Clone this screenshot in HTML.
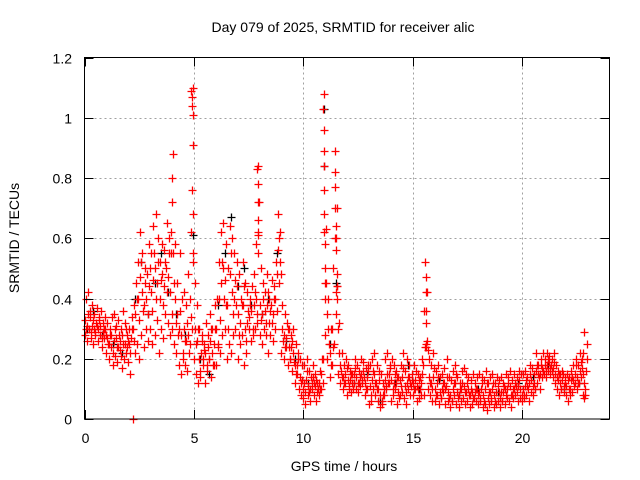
<!DOCTYPE html>
<html><head><meta charset="utf-8"><style>
html,body{margin:0;padding:0;background:#fff;}
svg{display:block;font-family:"Liberation Sans",sans-serif;}
</style></head><body>
<svg id="chart" width="640" height="480" viewBox="0 0 640 480">
<rect x="0" y="0" width="640" height="480" fill="#fff"/>
<text x="343" y="32" text-anchor="middle" font-size="14" fill="#000">Day 079 of 2025, SRMTID for receiver alic</text>
<text x="0" y="0" transform="translate(19,238) rotate(-90)" text-anchor="middle" font-size="14" fill="#000">SRMTID / TECUs</text>
<text x="344" y="471" text-anchor="middle" font-size="14" fill="#000">GPS time / hours</text>
<g id="grid"></g>
<g id="black-series"></g>
<g id="red-series"></g>
<rect x="84.5" y="57.5" width="525" height="361.5" fill="none" stroke="#000" stroke-width="1"/>
<g id="ticks"></g>
</svg>
<script>
const xTicks = [0, 5, 10, 15, 20];
const yTicks = [0, 0.2, 0.4, 0.6, 0.8, 1, 1.2];
const yTickLabels = ["0", "0.2", "0.4", "0.6", "0.8", "1", "1.2"];
const binStart = 0, binStep = 0.1;
const srmtidA = [.28,.26,.30,.27,.25,.29,.26,.28,.24,.27,
.22,.20,.24,.18,.21,.19,.23,.17,.20,.22,
.19,.15,.00,.22,.25,.20,.28,.24,.30,.26,
.30,.25,.28,.33,.22,.30,.27,.35,.32,.28,
.30,.25,.22,.18,.15,.20,.18,.16,.25,.30,
.20,.15,.12,.14,.18,.12,.16,.20,.14,.18,
.18,.25,.22,.28,.30,.20,.25,.22,.28,.30,
.20,.25,.28,.18,.22,.30,.26,.28,.30,.32,
.28,.25,.30,.28,.22,.28,.26,.30,.48,.45,
.22,.20,.24,.18,.20,.16,.12,.15,.10,.08,
.07,.05,.08,.06,.10,.08,.06,.08,.10,.20,
.28,.20,.14,.18,.25,.35,.15,.12,.10,.12,
.08,.10,.09,.12,.10,.09,.11,.12,.08,.10,
.05,.06,.10,.08,.06,.04,.05,.08,.10,.12,
.06,.08,.10,.05,.08,.09,.07,.05,.10,.08,
.08,.10,.06,.07,.12,.08,.24,.10,.08,.06,
.06,.08,.05,.07,.09,.05,.06,.04,.06,.08,
.05,.04,.06,.07,.05,.06,.04,.05,.07,.06,
.05,.06,.04,.05,.03,.05,.06,.04,.05,.06,
.04,.06,.05,.07,.06,.04,.07,.08,.06,.07,
.06,.07,.08,.06,.09,.08,.10,.12,.10,.14,
.15,.14,.16,.15,.14,.12,.10,.08,.10,.09,
.08,.06,.10,.09,.12,.10,.12,.14,.08,.08];
const srmtidB = [.40,.42,.36,.38,.35,.37,.33,.36,.32,.34,
.32,.30,.34,.35,.31,.33,.30,.36,.32,.28,
.30,.34,.38,.45,.52,.62,.55,.50,.48,.58,
.55,.64,.68,.60,.52,.58,.56,.65,.60,.55,
.88,.58,.45,.55,.40,.42,.38,.48,.62,1.10,
.45,.38,.30,.28,.25,.32,.28,.35,.30,.38,
.40,.52,.62,.65,.58,.50,.64,.60,.55,.52,
.48,.40,.52,.45,.42,.38,.44,.48,.58,.84,
.50,.45,.42,.48,.40,.46,.44,.52,.68,.62,
.38,.35,.32,.30,.28,.30,.25,.22,.20,.18,
.18,.20,.16,.14,.18,.15,.12,.16,.20,1.08,
.63,.40,.30,.50,.89,.70,.32,.22,.18,.20,
.18,.16,.15,.20,.18,.16,.20,.19,.17,.18,
.18,.20,.22,.18,.16,.15,.12,.20,.22,.18,
.20,.18,.16,.14,.18,.22,.16,.20,.18,.15,
.18,.16,.15,.14,.20,.52,.42,.20,.18,.22,
.16,.18,.14,.15,.17,.20,.14,.13,.16,.18,
.14,.12,.16,.17,.15,.14,.13,.15,.12,.14,
.15,.14,.13,.16,.12,.14,.15,.12,.14,.13,
.14,.12,.15,.14,.16,.13,.15,.14,.16,.15,
.15,.16,.14,.18,.17,.15,.22,.18,.20,.22,
.20,.22,.21,.20,.22,.18,.16,.15,.16,.14,
.15,.14,.16,.18,.20,.18,.22,.20,.29,.25];
const srmtidC = [.33,.31,.34,.31,.30,.32,.30,.31,.29,.30,
.27,.25,.28,.26,.27,.24,.26,.28,.25,.24,
.25,.27,.30,.35,.40,.47,.42,.38,.40,.44,
.42,.46,.50,.45,.40,.48,.44,.50,.47,.42,
.55,.40,.35,.30,.28,.30,.26,.28,.40,.76,
.30,.26,.20,.22,.20,.22,.24,.26,.22,.25,
.30,.40,.45,.50,.46,.38,.48,.42,.40,.38,
.35,.32,.38,.30,.32,.34,.36,.38,.40,.62,
.38,.35,.36,.38,.32,.38,.35,.40,.56,.52,
.30,.28,.27,.24,.24,.22,.18,.18,.14,.13,
.12,.13,.11,.10,.14,.11,.09,.12,.15,.62,
.45,.30,.22,.30,.60,.44,.22,.16,.14,.15,
.13,.13,.12,.15,.14,.12,.15,.16,.12,.14,
.11,.13,.15,.12,.10,.08,.08,.13,.15,.15,
.13,.12,.12,.09,.13,.14,.11,.12,.14,.11,
.12,.13,.10,.10,.15,.36,.25,.14,.12,.14,
.10,.12,.09,.10,.12,.11,.09,.08,.10,.12,
.09,.08,.10,.11,.09,.10,.08,.09,.09,.10,
.09,.10,.08,.10,.07,.09,.10,.08,.09,.09,
.09,.09,.10,.10,.11,.08,.10,.11,.11,.10,
.10,.11,.11,.12,.13,.12,.16,.15,.15,.17,
.18,.18,.19,.18,.17,.15,.13,.12,.13,.11,
.11,.10,.13,.13,.15,.14,.16,.17,.12,.16];
const srmtidD = [.30,.35,.29,.33,.28,.31,.34,.27,.30,.28,
.25,.28,.22,.30,.24,.28,.21,.25,.30,.26,
.22,.30,.26,.40,.33,.52,.36,.45,.35,.50,
.36,.55,.40,.52,.46,.38,.52,.42,.55,.35,
.45,.32,.28,.36,.22,.26,.32,.22,.34,.55,
.25,.30,.16,.26,.23,.18,.20,.30,.18,.30,
.24,.33,.52,.40,.38,.30,.55,.35,.46,.44,
.28,.38,.44,.26,.36,.40,.30,.42,.35,.72,
.33,.40,.32,.42,.36,.32,.40,.36,.60,.48,
.26,.24,.30,.20,.26,.19,.15,.20,.12,.10,
.09,.16,.09,.12,.12,.13,.10,.10,.12,.40,
.35,.25,.18,.24,.42,.30,.18,.14,.12,.17,
.11,.15,.10,.17,.12,.14,.13,.14,.10,.16,
.08,.16,.12,.10,.13,.06,.10,.11,.12,.17,
.10,.15,.14,.07,.11,.17,.09,.14,.12,.13,
.10,.11,.13,.08,.18,.24,.23,.12,.10,.17,
.08,.14,.07,.12,.10,.14,.07,.06,.12,.15,
.07,.10,.12,.09,.12,.08,.10,.07,.10,.08,
.07,.12,.06,.12,.09,.07,.12,.06,.11,.07,
.06,.11,.08,.12,.08,.10,.12,.09,.13,.08,
.08,.13,.10,.15,.11,.10,.18,.14,.18,.16,
.16,.20,.17,.16,.19,.14,.15,.10,.15,.12,
.13,.08,.14,.11,.18,.12,.19,.15,.10,.20];
const spikeHours = [3.95,4.0,4.02,4.88,4.9,4.92,4.94,4.95,4.97,4.98,7.9,7.91,7.92,7.93,7.94,7.95,
10.92,10.93,10.94,10.95,10.96,10.97,10.98,10.99,11.0,11.45,11.46,11.47,11.48,11.49,11.5,11.52,11.53,11.55,
15.6,15.61,15.62,15.63,15.64,22.8,22.82];
const spikeValues = [.62,.80,.72,1.09,1.07,1.04,1.01,.91,.68,.52,.83,.78,.72,.66,.61,.55,
1.03,.96,.89,.84,.76,.68,.58,.50,.45,.82,.77,.70,.64,.60,.56,.48,.44,.40,
.47,.42,.36,.32,.26,.22,.07];
const blackHours = [0.1,0.4,0.8,1.3,1.7,2.3,2.6,2.9,3.2,3.5,3.8,4.2,4.6,4.95,5.3,5.7,6.1,6.4,6.7,7.0,7.3,7.6,8.1,8.4,8.8,9.2,9.6,10.2,10.95,10.97,11.2,11.5,12.3,12.9,13.5,14.2,14.8,15.3,16.2,17.1,18.0,18.9,19.8,20.5,21.2,21.9,22.6];
const blackValues = [.30,.36,.28,.25,.22,.40,.52,.35,.45,.55,.42,.35,.28,.61,.20,.15,.38,.55,.67,.44,.50,.38,.35,.40,.55,.26,.20,.12,1.03,.84,.25,.45,.12,.15,.06,.12,.18,.10,.13,.08,.10,.09,.12,.14,.18,.10,.12];

const X0 = 84.5, X1 = 609.5, Y0 = 419, Y1 = 57.5;
const xMin = 0, xMax = 24, yMin = 0, yMax = 1.2;
function xScale(v){ return X0 + (v - xMin) / (xMax - xMin) * (X1 - X0); }
function yScale(v){ return Y0 - (v - yMin) / (yMax - yMin) * (Y0 - Y1); }
const NS = "http://www.w3.org/2000/svg";
const grid = document.getElementById("grid");
const ticks = document.getElementById("ticks");

yTicks.forEach((t, i) => {
  const y = Math.round(yScale(t)) + 0.5;
  if (t > yMin && t < yMax) {
    const g = document.createElementNS(NS, "line");
    g.setAttribute("x1", X0); g.setAttribute("x2", X1); g.setAttribute("y1", y); g.setAttribute("y2", y);
    g.setAttribute("stroke", "#a0a0a0"); g.setAttribute("stroke-dasharray", "2,3");
    
    
    grid.appendChild(g);
  }
  const tk = document.createElementNS(NS, "path");
  tk.setAttribute("d", `M${X0},${y}h9M${X1},${y}h-9`);
  tk.setAttribute("stroke", "#000");
  
  
  ticks.appendChild(tk);
  const lb = document.createElementNS(NS, "text");
  lb.setAttribute("x", 72); lb.setAttribute("y", y + 5);
  lb.setAttribute("text-anchor", "end"); lb.setAttribute("font-size", "14");
  lb.textContent = yTickLabels[i];
  
  
  ticks.appendChild(lb);
});
xTicks.forEach(t => {
  const x = Math.round(xScale(t)) + 0.5;
  if (t > xMin) {
    const g = document.createElementNS(NS, "line");
    g.setAttribute("x1", x); g.setAttribute("x2", x); g.setAttribute("y1", Y1); g.setAttribute("y2", Y0);
    g.setAttribute("stroke", "#a0a0a0"); g.setAttribute("stroke-dasharray", "2,3");
    
    
    grid.appendChild(g);
  }
  const tk = document.createElementNS(NS, "path");
  tk.setAttribute("d", `M${x},${Y0}v-9M${x},${Y1}v9`);
  tk.setAttribute("stroke", "#000");
  
  
  ticks.appendChild(tk);
  const lb = document.createElementNS(NS, "text");
  lb.setAttribute("x", x); lb.setAttribute("y", 443);
  lb.setAttribute("text-anchor", "middle"); lb.setAttribute("font-size", "14");
  lb.textContent = String(t);
  
  
  ticks.appendChild(lb);
});

function plus(parent, h, v, color){
  const x = Math.round(xScale(h)) + 0.5, y = Math.round(yScale(v)) + 0.5;
  const p = document.createElementNS(NS, "path");
  p.setAttribute("d", `M${x-4},${y}h8M${x},${y-4}v8`);
  p.setAttribute("stroke", color); p.setAttribute("stroke-width", "1.3");
  
  
  parent.appendChild(p);
}
const blackG = document.getElementById("black-series");
blackHours.forEach((h, i) => plus(blackG, h, blackValues[i], "#000"));
const redG = document.getElementById("red-series");
srmtidA.forEach((v, i) => plus(redG, binStart + i * binStep, v, "#ff0000"));
srmtidB.forEach((v, i) => plus(redG, binStart + i * binStep + 0.05, v, "#ff0000"));
srmtidC.forEach((v, i) => plus(redG, binStart + i * binStep + 0.03, v, "#ff0000"));
srmtidD.forEach((v, i) => plus(redG, binStart + i * binStep + 0.08, v, "#ff0000"));
spikeHours.forEach((h, i) => plus(redG, h, spikeValues[i], "#ff0000"));
</script>
</body></html>
